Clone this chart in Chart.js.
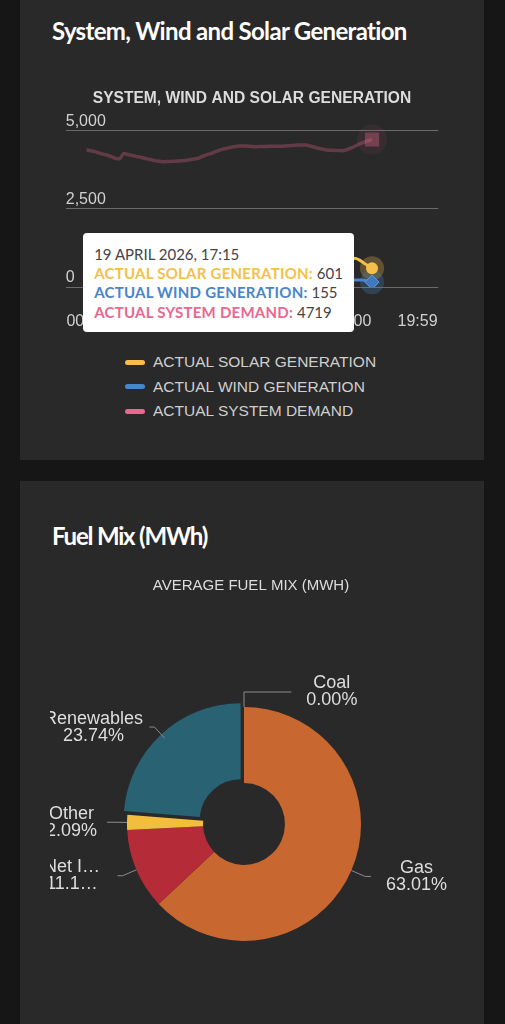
<!DOCTYPE html>
<html>
<head>
<meta charset="utf-8">
<script src="https://cdn.jsdelivr.net/npm/chart.js@4.4.1/dist/chart.umd.min.js"></script>
<style>
  html, body { margin: 0; padding: 0; width: 505px; height: 1024px; overflow: hidden; background: #161616; }
  body { position: relative; font-family: "Liberation Sans", Arial, sans-serif; }
  .card { position: absolute; left: 20px; width: 464px; background: #292929; }
  #card1 { top: -20px; height: 480px; }
  #card2 { top: 481px; height: 600px; }
  .heading { position: absolute; left: 52px; margin: 0; color: #fff; font-family: Lato, sans-serif; font-weight: 700;
             font-size: 24px; line-height: 24px; letter-spacing: -0.67px; white-space: nowrap; }
  #lineChart { position: absolute; left: 64px; top: 89px; }
  #pieChart { position: absolute; left: 50px; top: 570px; }
  #tip { position: absolute; display: none; background: #fff; border-radius: 4px; padding: 12px 11px 10px 11px;
         font-family: Lato, sans-serif; font-size: 15px; line-height: 19.3px; color: #444; white-space: nowrap; }
  #tip b { font-weight: 700; letter-spacing: 0.25px; }
  #legend { position: absolute; left: 125px; top: 350px; }
  .lg { height: 24.6px; display: flex; align-items: center; color: #cfcfcf; font-size: 15.5px; }
  .sw { width: 20px; height: 5px; border-radius: 3px; margin-right: 8px; }
</style>
</head>
<body>
<div class="card" id="card1"></div>
<div class="card" id="card2"></div>
<h1 class="heading" style="top:19px">System, Wind and Solar Generation</h1>
<h1 class="heading" style="top:524px; letter-spacing:-1.2px">Fuel Mix (MWh)</h1>
<canvas id="lineChart" width="376" height="250"></canvas>
<div id="legend"></div>
<div id="tip"></div>
<canvas id="pieChart" width="404" height="454"></canvas>
<script>
// 15 minute slots, last one is the end of the axis
const times = [
  '00:00','00:15','00:30','00:45','01:00','01:15','01:30','01:45',
  '02:00','02:15','02:30','02:45','03:00','03:15','03:30','03:45',
  '04:00','04:15','04:30','04:45','05:00','05:15','05:30','05:45',
  '06:00','06:15','06:30','06:45','07:00','07:15','07:30','07:45',
  '08:00','08:15','08:30','08:45','09:00','09:15','09:30','09:45',
  '10:00','10:15','10:30','10:45','11:00','11:15','11:30','11:45',
  '12:00','12:15','12:30','12:45','13:00','13:15','13:30','13:45',
  '14:00','14:15','14:30','14:45','15:00','15:15','15:30','15:45',
  '16:00','16:15','16:30','16:45','17:00','17:15','17:30','17:45',
  '18:00','18:15','18:30','18:45','19:00','19:15','19:30','19:45','19:59'
]
const tickIndex = [0, 16, 32, 48, 64, 80]
const dateLabel = '19 APRIL 2026'
const hoverIndex = 69

const solar = [
  0, 0, 0, 0, 0, 0, 0, 0, 0, 0,
  0, 0, 0, 0, 0, 0, 0, 0, 0, 0,
  0, 0, 0, 0, 0, 0, 5, 12, 25, 45,
  70, 100, 140, 185, 235, 290, 350, 410, 470, 530,
  590, 650, 700, 760, 810, 860, 900, 940, 980, 1010,
  1040, 1060, 1080, 1090, 1095, 1090, 1080, 1060, 1040, 1010,
  985, 960, 940, 930, 925, 915, 860, 770, 680, 601
]
const wind = [
  620, 610, 600, 590, 575, 560, 545, 530, 520, 510, 495,
  480, 470, 455, 440, 430, 420, 410, 400, 390, 380,
  370, 360, 350, 345, 340, 330, 320, 315, 310, 300,
  295, 290, 285, 280, 275, 270, 265, 262, 258, 255,
  250, 248, 245, 243, 240, 238, 236, 235, 234, 232,
  230, 228, 226, 225, 224, 222, 221, 220, 220, 221,
  222, 223, 224, 225, 224, 222, 215, 190, 155
]
const demand = [
  4390, 4360, 4330, 4290, 4250, 4215, 4170, 4120, 4100, 4270,
  4240, 4210, 4180, 4155, 4120, 4090, 4060, 4035, 4015, 4010,
  4015, 4020, 4030, 4040, 4050, 4070, 4100, 4120, 4180, 4230,
  4270, 4320, 4370, 4410, 4440, 4470, 4495, 4510, 4515, 4505,
  4495, 4490, 4492, 4495, 4500, 4500, 4500, 4502, 4510, 4520,
  4530, 4540, 4545, 4540, 4510, 4475, 4440, 4410, 4385, 4375,
  4370, 4365, 4362, 4400, 4450, 4510, 4580, 4630, 4680, 4719
]

const fuelTitle = 'AVERAGE FUEL MIX (MWH)'
const fuelNames = ['Coal', 'Gas', 'Net Import', 'Other', 'Renewables']
const fuelShare = [0.00, 63.01, 11.16, 2.09, 23.74]
const fuelColors = ['#5b5b5b', '#c8672f', '#b52b38', '#f3be3c', '#286273']

const SOLAR = '#f5c04a'
const WIND = '#4a84c9'
const DEMAND = '#e8688f'

Chart.defaults.font.family = '"Liberation Sans", Arial, sans-serif'

const toPoints = arr => arr.map((v, i) => ({ x: i, y: v }))

function externalTip({ chart, tooltip }) {
  const el = document.getElementById('tip')
  if (tooltip.opacity === 0) {
    el.style.display = 'none'
    return
  }
  const pts = tooltip.dataPoints
  let html = '<div>' + dateLabel + ', ' + times[pts[0].dataIndex] + '</div>'
  pts.forEach(p => {
    const ds = chart.data.datasets[p.datasetIndex]
    html += '<div><b style="color:' + ds.borderTextColor + '">' + ds.label + ':</b> ' + p.raw.y + '</div>'
  })
  el.innerHTML = html
  el.style.display = 'block'
  const cv = chart.canvas
  el.style.left = (cv.offsetLeft + tooltip.caretX - 19 - el.offsetWidth) + 'px'
  el.style.top = (cv.offsetTop + tooltip.caretY - el.offsetHeight / 2) + 'px'
}

// hover halo behind the active points
const haloPlugin = {
  id: 'halo',
  beforeDatasetsDraw(chart) {
    const ctx = chart.ctx
    chart.getActiveElements().forEach(a => {
      const ds = chart.data.datasets[a.datasetIndex]
      ctx.save()
      ctx.fillStyle = ds.haloColor
      ctx.beginPath()
      ctx.arc(a.element.x, a.element.y, ds.haloRadius, 0, Math.PI * 2)
      ctx.fill()
      ctx.restore()
    })
  }
}

const lineChart = new Chart(document.getElementById('lineChart'), {
  type: 'line',
  data: {
    datasets: [
      {
        label: 'ACTUAL SOLAR GENERATION',
        data: toPoints(solar),
        borderColor: SOLAR,
        backgroundColor: SOLAR,
        borderTextColor: SOLAR,
        haloColor: 'rgba(245,192,74,0.28)',
        haloRadius: 12,
        borderWidth: 3,
        pointStyle: 'circle',
        pointRadius: 0,
        pointHoverRadius: 6,
        pointHoverBorderWidth: 0,
        pointHoverBackgroundColor: SOLAR,
      },
      {
        label: 'ACTUAL WIND GENERATION',
        data: toPoints(wind),
        borderColor: WIND,
        backgroundColor: WIND,
        borderTextColor: WIND,
        haloColor: 'rgba(74,132,201,0.28)',
        haloRadius: 12,
        borderWidth: 3,
        pointStyle: 'rectRot',
        pointRadius: 0,
        pointHoverRadius: 7,
        pointHoverBorderWidth: 1,
        pointHoverBorderColor: '#6a9ad6',
        pointHoverBackgroundColor: '#3f78bf',
      },
      {
        label: 'ACTUAL SYSTEM DEMAND',
        data: toPoints(demand),
        borderColor: 'rgba(232,104,140,0.3)',
        backgroundColor: 'rgba(232,104,140,0.3)',
        borderTextColor: DEMAND,
        haloColor: 'rgba(232,104,140,0.08)',
        haloRadius: 15,
        borderWidth: 3.5,
        pointStyle: 'rect',
        pointRadius: 0,
        pointHoverRadius: 10,
        pointHoverBorderWidth: 0,
        pointHoverBackgroundColor: 'rgba(232,104,140,0.35)',
      },
    ],
  },
  options: {
    responsive: false,
    animation: false,
    events: [],
    cubicInterpolationMode: 'monotone',
    layout: { padding: 0 },
    scales: {
      x: {
        type: 'linear',
        min: -5,
        max: 85,
        grid: { display: false },
        border: { display: false },
        afterBuildTicks: axis => {
          axis.ticks = tickIndex.map(v => ({ value: v }))
        },
        afterFit: axis => {
          axis.height = 52
          axis.paddingLeft = 0
          axis.paddingRight = 0
        },
        ticks: {
          color: '#d0d0d0',
          font: { size: 16 },
          padding: 16.5,
          maxRotation: 0,
          autoSkip: false,
          callback: v => times[v],
        },
      },
      y: {
        min: 0,
        max: 5000,
        border: { display: false },
        grid: { color: '#6b6b6b', drawTicks: false },
        afterFit: axis => {
          axis.width = 0
          axis.paddingTop = 0
          axis.paddingBottom = 0
        },
        ticks: {
          stepSize: 2500,
          mirror: true,
          padding: 0,
          labelOffset: -9,
          color: '#d0d0d0',
          font: { size: 16 },
          callback: v => v.toLocaleString('en-US'),
        },
      },
    },
    plugins: {
      legend: { display: false },
      title: {
        display: true,
        text: 'SYSTEM, WIND AND SOLAR GENERATION',
        color: '#dcdcdc',
        font: { size: 15.6, weight: 'bold' },
        padding: { top: 0, bottom: 23 },
      },
      tooltip: { enabled: false, position: 'nearest', external: externalTip },
    },
  },
  plugins: [haloPlugin],
})

const active = [0, 1, 2].map(d => ({ datasetIndex: d, index: hoverIndex }))
const windPt = lineChart.getDatasetMeta(1).data[hoverIndex]
lineChart.setActiveElements(active)
lineChart.tooltip.setActiveElements(active, { x: windPt.x, y: windPt.y })
lineChart.update()

// legend under the line chart
document.getElementById('legend').innerHTML = lineChart.data.datasets
  .map(ds => '<div class="lg"><span class="sw" style="background:' + ds.borderTextColor + '"></span>' + ds.label + '</div>')
  .join('')

// title plus data labels with elbow connectors for the doughnut
const pieLabels = {
  id: 'pieLabels',
  afterDraw(chart) {
    const ctx = chart.ctx
    const meta = chart.getDatasetMeta(0)
    const values = chart.data.datasets[0].data
    const total = values.reduce((a, b) => a + b, 0)
    ctx.save()
    ctx.textBaseline = 'middle'
    ctx.textAlign = 'center'
    ctx.fillStyle = '#dcdcdc'
    ctx.font = '15px "Liberation Sans", Arial, sans-serif'
    ctx.fillText(fuelTitle, chart.width / 2 - 1, 16)

    ctx.font = '18px "Liberation Sans", Arial, sans-serif'
    meta.data.forEach((arc, i) => {
      const cx = arc.x, cy = arc.y, r = arc.outerRadius
      const mid = (arc.startAngle + arc.endAngle) / 2
      const cos = Math.cos(mid), sin = Math.sin(mid)
      const right = cos >= -1e-6
      const tx = cx + r * cos, ty = cy + r * sin
      const bx = cx + (r + 15) * cos, by = cy + (r + 15) * sin
      const R = r + 25
      const dy = by - cy
      let endX, edge
      if (right) {
        const lx = cx + Math.sqrt(Math.max(R * R - dy * dy, 0))
        endX = Math.max(lx - 5, bx)
        edge = lx + 10
      } else {
        endX = bx - 5
        edge = bx - 15
      }
      ctx.strokeStyle = '#8c8c8c'
      ctx.lineWidth = 1
      ctx.beginPath()
      ctx.moveTo(tx, ty)
      ctx.lineTo(bx, by)
      ctx.lineTo(endX, by)
      ctx.stroke()

      let lines = [fuelNames[i], (values[i] / total * 100).toFixed(2) + '%']
      const widest = () => Math.max(...lines.map(s => ctx.measureText(s).width))
      let w = widest()
      let centerX
      if (right) {
        centerX = edge + w / 2
      } else {
        let left = edge - w
        if (left < -6) {
          // labels running far off the edge get an ellipsis
          if (-6 - left > 12) {
            const maxW = edge
            lines = lines.map(s => {
              if (ctx.measureText(s).width <= maxW) return s
              while (s.length && ctx.measureText(s + '\u2026').width > maxW) s = s.slice(0, -1)
              return s + '\u2026'
            })
            w = widest()
          }
          left = -6
        }
        centerX = left + w / 2
      }
      ctx.fillStyle = '#dedede'
      ctx.fillText(lines[0], centerX, by - 8.5)
      ctx.fillText(lines[1], centerX, by + 8.5)
    })
    ctx.restore()
  }
}

new Chart(document.getElementById('pieChart'), {
  type: 'doughnut',
  data: {
    labels: fuelNames,
    datasets: [{
      data: fuelShare,
      backgroundColor: fuelColors,
      borderWidth: 0,
      offset: [0, 0, 0, 0, 20],
    }],
  },
  options: {
    responsive: false,
    animation: false,
    events: [],
    radius: 117,
    cutout: '35%',
    layout: { padding: { top: 54, right: 16 } },
    plugins: {
      legend: { display: false },
      tooltip: { enabled: false },
      title: { display: false },
    },
  },
  plugins: [pieLabels],
})
</script>
</body>
</html>
